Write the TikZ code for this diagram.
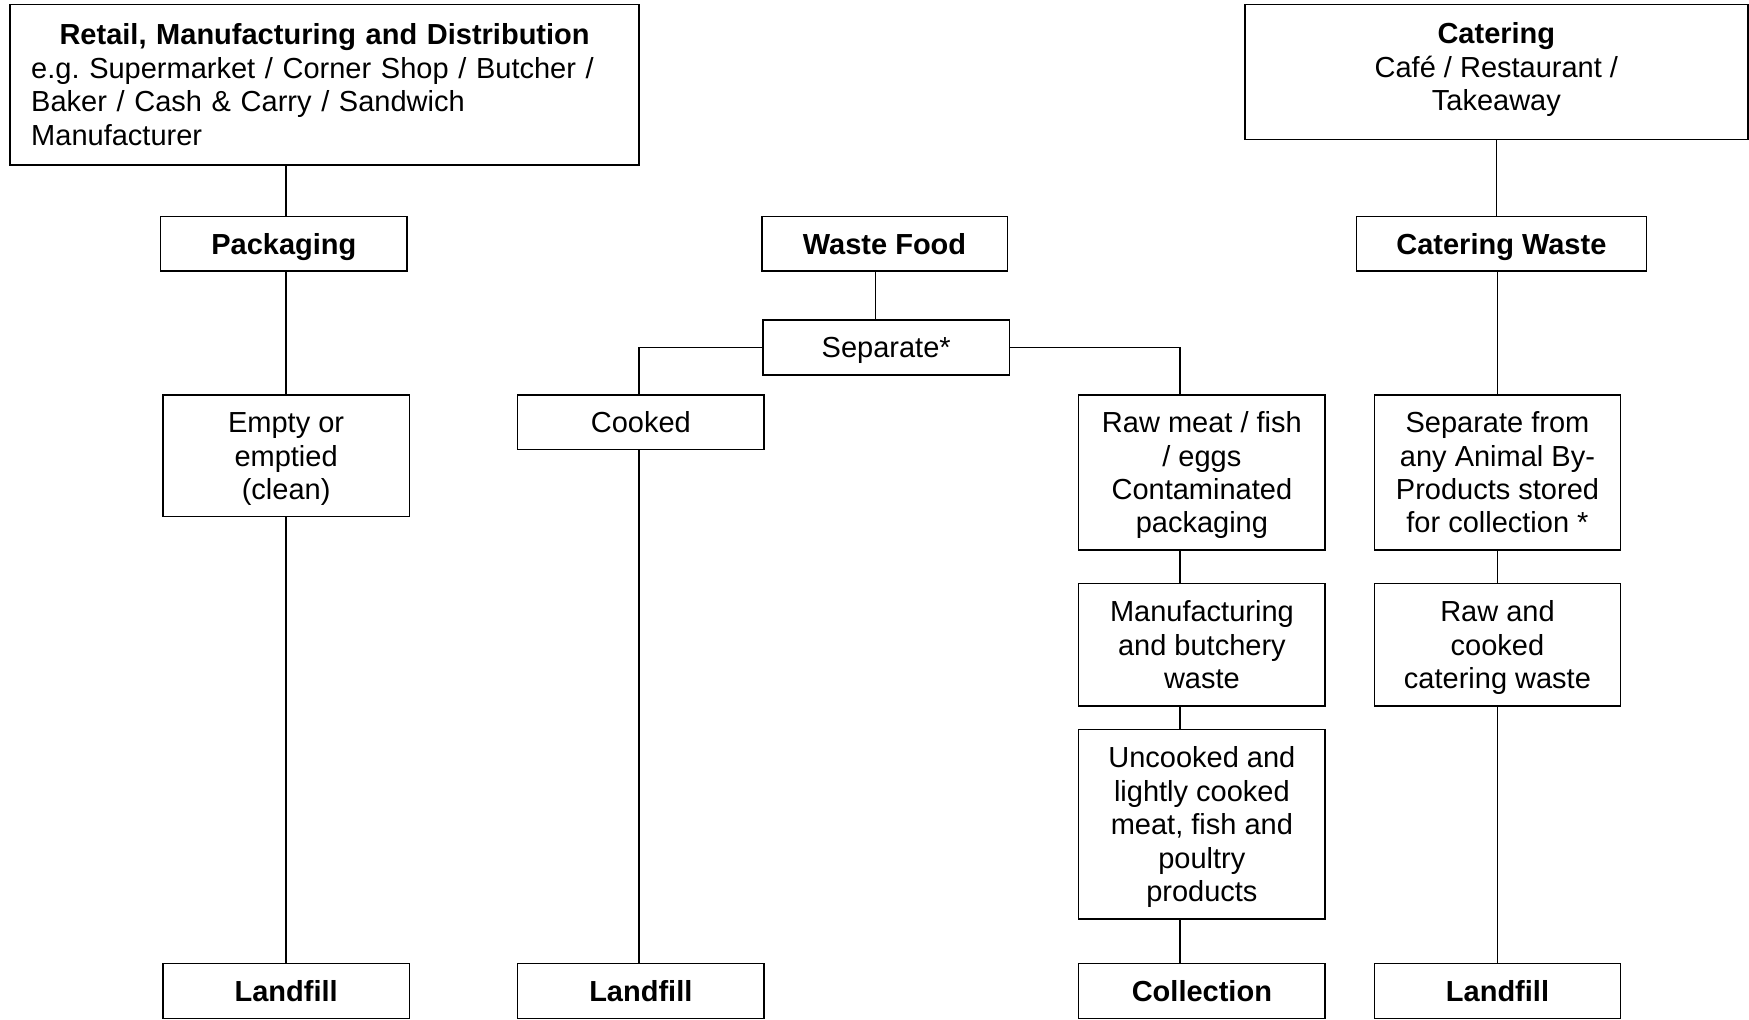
\documentclass[tikz,border=0pt]{standalone}
\usepackage{fontspec}
\setmainfont{Liberation Sans}
\usetikzlibrary{calc}
\newcommand\bxstrut{\rule[-5.7pt]{0pt}{30pt}}
\begin{document}
\begin{tikzpicture}[x=1pt,y=-1pt,
  box/.style={draw=black, line width=1.3pt, inner sep=0pt, align=center,
    font=\fontsize{26}{30}\selectfont\frenchspacing, minimum width=221, minimum height=49,
    execute at begin node=\bxstrut, execute at end node=\bxstrut},
  link/.style={draw=black, line width=1.3pt}]
\useasboundingbox (0,0) rectangle (1568,914);
% top boxes
\node[box, minimum width=564, minimum height=144, text width=526, align=left] (retail) at (291,76)
  {\makebox[\hsize][c]{\bfseries Retail, Manufacturing and Distribution}\\
   e.g. Supermarket / Corner Shop / Butcher /\\
   Baker / Cash \& Carry / Sandwich\\
   Manufacturer};
\node[box, minimum width=451, minimum height=121] (catering) at (1341.5,64.5)
  {\bxstrut\textbf{Catering}\\Café / Restaurant /\\Takeaway\rule[-14.7pt]{0pt}{1pt}};
% second row
\node[box] (packaging) at (254.5,218.5) {\textbf{Packaging}};
\node[box, minimum width=220] (wastefood) at (793,218.5) {\textbf{Waste Food}};
\node[box, minimum width=260] (catwaste) at (1346,218.5) {\textbf{Catering Waste}};
\node[box] (separate) at (794.5,311.5) {Separate*};
% third row
\node[box] (cooked) at (574.5,378.5) {Cooked};
\node[box, minimum height=109] (empty) at (256.5,408.5) {\bxstrut Empty or\\emptied\\(clean)\bxstrut};
\node[box, minimum height=139] (rawmeat) at (1077.5,423.5) {\bxstrut Raw meat / fish\\/ eggs\\Contaminated\\packaging\bxstrut};
\node[box, minimum height=139] (sepfrom) at (1342.5,423.5) {\bxstrut Separate from\\any Animal By-\\Products stored\\for collection *\bxstrut};
\node[box, minimum height=110] (manuf) at (1077.5,578) {\bxstrut Manufacturing\\and butchery\\waste\bxstrut};
\node[box, minimum height=110] (rawcooked) at (1342.5,578) {\bxstrut Raw and\\cooked\\catering waste\bxstrut};
\node[box, minimum height=170] (uncooked) at (1077.5,739) {\bxstrut Uncooked and\\lightly cooked\\meat, fish and\\poultry\\products\bxstrut};
% bottom row
\node[box] (land1) at (256.5,888.5) {\textbf{Landfill}};
\node[box] (land2) at (574.5,888.5) {\textbf{Landfill}};
\node[box] (collection) at (1077.5,888.5) {\textbf{Collection}};
\node[box] (land4) at (1342.5,888.5) {\textbf{Landfill}};
% coordinates for off-centre connectors
\coordinate (cx) at ($(collection.center)+(-19.5,0)$);
\coordinate (wx) at ($(wastefood.center)+(-8,0)$);
% connectors: left column
\draw[link] (retail.south -| empty) -- (packaging.north -| empty);
\draw[link] (packaging.south -| empty) -- (empty.north);
\draw[link] (empty.south) -- (land1.north);
% centre
\draw[link] (wastefood.south -| wx) -- (separate.north -| wx);
\draw[link] (separate.west) -| ($(cooked.north)+(-1.5,0)$);
\draw[link] ($(cooked.south)+(-1.5,0)$) -- ($(land2.north)+(-1.5,0)$);
\draw[link] (separate.east) -| (rawmeat.north -| cx);
\draw[link] (rawmeat.south -| cx) -- (manuf.north -| cx);
\draw[link] (manuf.south -| cx) -- (uncooked.north -| cx);
\draw[link] (uncooked.south -| cx) -- (collection.north -| cx);
% right column
\draw[link] (catering.south) -- (catwaste.north -| catering);
\draw[link] (catwaste.south -| sepfrom) -- (sepfrom.north);
\draw[link] (sepfrom.south) -- (rawcooked.north);
\draw[link] (rawcooked.south) -- (land4.north);
\end{tikzpicture}
\end{document}
